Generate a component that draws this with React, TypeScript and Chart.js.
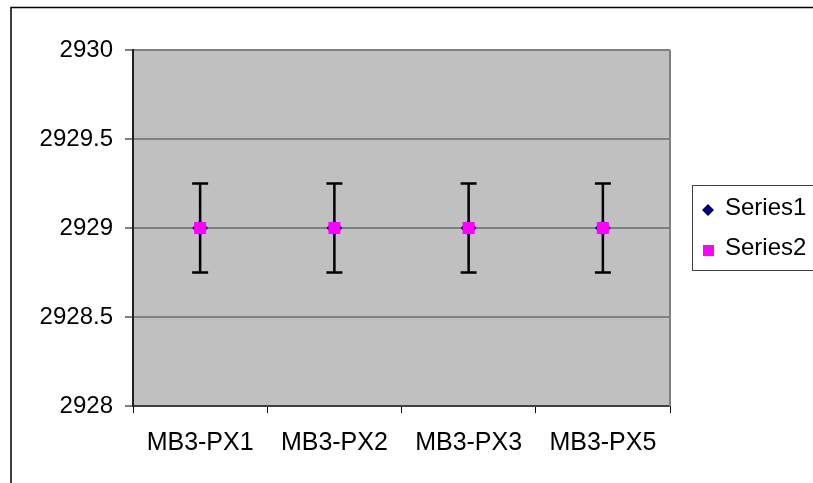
import React, { useEffect, useRef } from "react";
import { Chart, registerables } from "chart.js";

Chart.register(...registerables);

const categories = ["MB3-PX1", "MB3-PX2", "MB3-PX3", "MB3-PX5"];
const series1 = [2929, 2929, 2929, 2929];
const series2 = [2929, 2929, 2929, 2929];
const errorPlus = [0.25, 0.25, 0.25, 0.25];
const errorMinus = [0.25, 0.25, 0.25, 0.25];
const yMin = 2928;
const yMax = 2930;
const yStep = 0.5;

const FONT = "'Liberation Sans', Arial, sans-serif";

export default function App() {
  const ref = useRef<HTMLCanvasElement>(null);

  useEffect(() => {
    if (!ref.current) return;
    const decor = {
      id: "decor",
      beforeDraw(chart: any) {
        const { ctx, chartArea: a } = chart;
        ctx.save();
        ctx.fillStyle = "#ffffff";
        ctx.fillRect(0, 0, chart.width, chart.height);
        ctx.fillStyle = "#C0C0C0";
        ctx.fillRect(a.left, a.top, a.right - a.left, a.bottom - a.top);
        ctx.restore();
      },
      beforeDatasetsDraw(chart: any) {
        const { ctx } = chart;
        const y = chart.scales.y;
        const meta = chart.getDatasetMeta(1);
        ctx.save();
        ctx.strokeStyle = "#000000";
        ctx.lineWidth = 2.5;
        meta.data.forEach((pt: any, i: number) => {
          const v = series2[i];
          const yt = y.getPixelForValue(v + errorPlus[i]);
          const yb = y.getPixelForValue(v - errorMinus[i]);
          const x = pt.x;
          ctx.beginPath();
          ctx.moveTo(x, yt);
          ctx.lineTo(x, yb);
          ctx.moveTo(x - 8, yt);
          ctx.lineTo(x + 8, yt);
          ctx.moveTo(x - 8, yb);
          ctx.lineTo(x + 8, yb);
          ctx.stroke();
        });
        ctx.restore();
      },
      afterDraw(chart: any) {
        const { ctx, chartArea: a } = chart;
        ctx.save();
        ctx.strokeStyle = "#808080";
        ctx.lineWidth = 2;
        ctx.beginPath();
        ctx.moveTo(a.right, a.top);
        ctx.lineTo(a.right, a.bottom);
        ctx.stroke();
        ctx.strokeStyle = "#000000";
        ctx.lineWidth = 1.5;
        ctx.strokeRect(11, 7.5, 900, 600);
        ctx.strokeStyle = "#404040";
        ctx.lineWidth = 1;
        ctx.strokeRect(692.5, 185.5, 140, 85);
        const ds = chart.data.datasets;
        const rows = [215, 255];
        ctx.font = `24px ${FONT}`;
        ctx.textBaseline = "alphabetic";
        ctx.textAlign = "left";
        ds.forEach((d: any, i: number) => {
          const cy = i === 0 ? 210 : 250.5;
          ctx.fillStyle = d.backgroundColor;
          ctx.beginPath();
          if (d.pointStyle === "rectRot") {
            ctx.moveTo(708, cy - 6);
            ctx.lineTo(714, cy);
            ctx.lineTo(708, cy + 6);
            ctx.lineTo(702, cy);
            ctx.closePath();
          } else {
            ctx.rect(703, cy - 5.5, 11, 11);
          }
          ctx.fill();
          ctx.fillStyle = "#000000";
          ctx.fillText(d.label, 725, rows[i]);
        });
        ctx.restore();
      },
    };

    const chart = new Chart(ref.current, {
      type: "line",
      data: {
        labels: categories,
        datasets: [
          {
            label: "Series1",
            data: series1,
            showLine: false,
            pointStyle: "rectRot",
            pointRadius: 8,
            backgroundColor: "#000080",
            borderColor: "#000080",
            borderWidth: 0,
            order: 1,
          },
          {
            label: "Series2",
            data: series2,
            showLine: false,
            pointStyle: "rect",
            pointRadius: 8.5,
            backgroundColor: "#FF00FF",
            borderColor: "#FF00FF",
            borderWidth: 0,
            order: 0,
          },
        ],
      },
      options: {
        animation: false,
        responsive: false,
        layout: { padding: { top: 50, right: 143, bottom: 0, left: 0 } },
        plugins: { legend: { display: false }, tooltip: { enabled: false } },
        scales: {
          x: {
            type: "category",
            offset: true,
            afterFit(s: any) {
              s.height = 77;
            },
            grid: {
              display: true,
              drawOnChartArea: false,
              drawTicks: true,
              tickLength: 7,
              color: "#000000",
              offset: true,
            },
            border: { display: true, color: "#404040", width: 2 },
            ticks: {
              color: "#000000",
              font: { family: FONT, size: 25 },
              padding: 15,
              maxRotation: 0,
              autoSkip: false,
            },
          },
          y: {
            min: yMin,
            max: yMax,
            afterFit(s: any) {
              s.width = 133;
            },
            grid: {
              color: "#808080",
              lineWidth: 2,
              tickLength: 8,
            },
            border: { display: true, color: "#202020", width: 2 },
            ticks: {
              stepSize: yStep,
              color: "#000000",
              font: { family: FONT, size: 24 },
              padding: 12,
              callback: (v: any) => String(v),
            },
          },
        },
      },
      plugins: [decor],
    });
    return () => chart.destroy();
  }, []);

  return (
    <div style={{ position: "fixed", left: 0, top: 0, width: 813, height: 483 }}>
      <canvas ref={ref} width={813} height={483} />
    </div>
  );
}
